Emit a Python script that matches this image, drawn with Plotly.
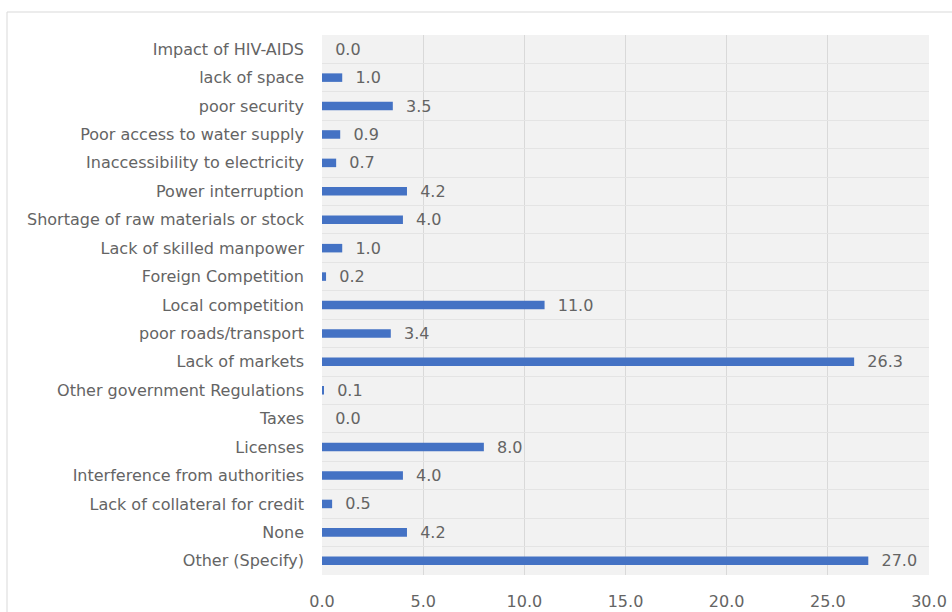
import plotly.graph_objects as go

categories = [
    "Impact of HIV-AIDS",
    "lack of space",
    "poor security",
    "Poor access to water supply",
    "Inaccessibility to electricity",
    "Power interruption",
    "Shortage of raw materials or stock",
    "Lack of skilled manpower",
    "Foreign Competition",
    "Local competition",
    "poor roads/transport",
    "Lack of markets",
    "Other government Regulations",
    "Taxes",
    "Licenses",
    "Interference from authorities",
    "Lack of collateral for credit",
    "None",
    "Other (Specify)",
]
values = [0.0, 1.0, 3.5, 0.9, 0.7, 4.2, 4.0, 1.0, 0.2, 11.0, 3.4, 26.3,
          0.1, 0.0, 8.0, 4.0, 0.5, 4.2, 27.0]
x_ticks = [0, 5, 10, 15, 20, 25, 30]
x_tick_labels = ["0.0", "5.0", "10.0", "15.0", "20.0", "25.0", "30.0"]

FONT = "DejaVu Sans"
FS = 16
GRAY = "#646464"

fig = go.Figure(go.Bar(
    x=values,
    y=categories,
    orientation="h",
    marker=dict(color="#4472C4", line=dict(width=0)),
    texttemplate="\u00a0\u00a0%{x:.1f}",
    textposition="outside",
    constraintext="none",
    textfont=dict(family=FONT, size=FS, color=GRAY),
    cliponaxis=False,
    width=0.3,
))

W, H = 952, 612
L, R, T, B = 322, W - 929, 35, H - 575
pw = W - L - R
ph = H - T - B

fig.update_layout(
    width=W, height=H,
    margin=dict(l=L, r=R, t=T, b=B, autoexpand=False),
    paper_bgcolor="white",
    plot_bgcolor="#f2f2f2",
    showlegend=False,
    font=dict(family=FONT, size=FS, color=GRAY),
    xaxis=dict(
        range=[0, 30],
        tickvals=x_ticks,
        ticktext=x_tick_labels,
        showgrid=True,
        gridcolor="#d9d9d9",
        gridwidth=1,
        zeroline=False,
        showline=False,
        ticks="",
        ticklabelstandoff=15,
        tickfont=dict(family=FONT, size=FS, color=GRAY),
    ),
    yaxis=dict(
        autorange="reversed",
        type="category",
        showgrid=True,
        tickson="boundaries",
        gridcolor="#e4e4e4",
        gridwidth=1,
        zeroline=False,
        showline=False,
        ticks="",
        ticklabelstandoff=17,
        tickfont=dict(family=FONT, size=FS, color=GRAY),
    ),
    shapes=[dict(
        type="rect", xref="paper", yref="paper",
        x0=(7 - L) / pw, x1=(960 - L) / pw,
        y0=(H - 620 - B) / ph, y1=(H - 12 - B) / ph,
        line=dict(color="#d9d9d9", width=1),
        fillcolor="rgba(0,0,0,0)",
        layer="below",
    )],
)

fig.write_html(
    "out.html",
    config={"displayModeBar": False},
    post_script="document.body.style.margin='0';document.body.style.overflow='hidden';",
)
